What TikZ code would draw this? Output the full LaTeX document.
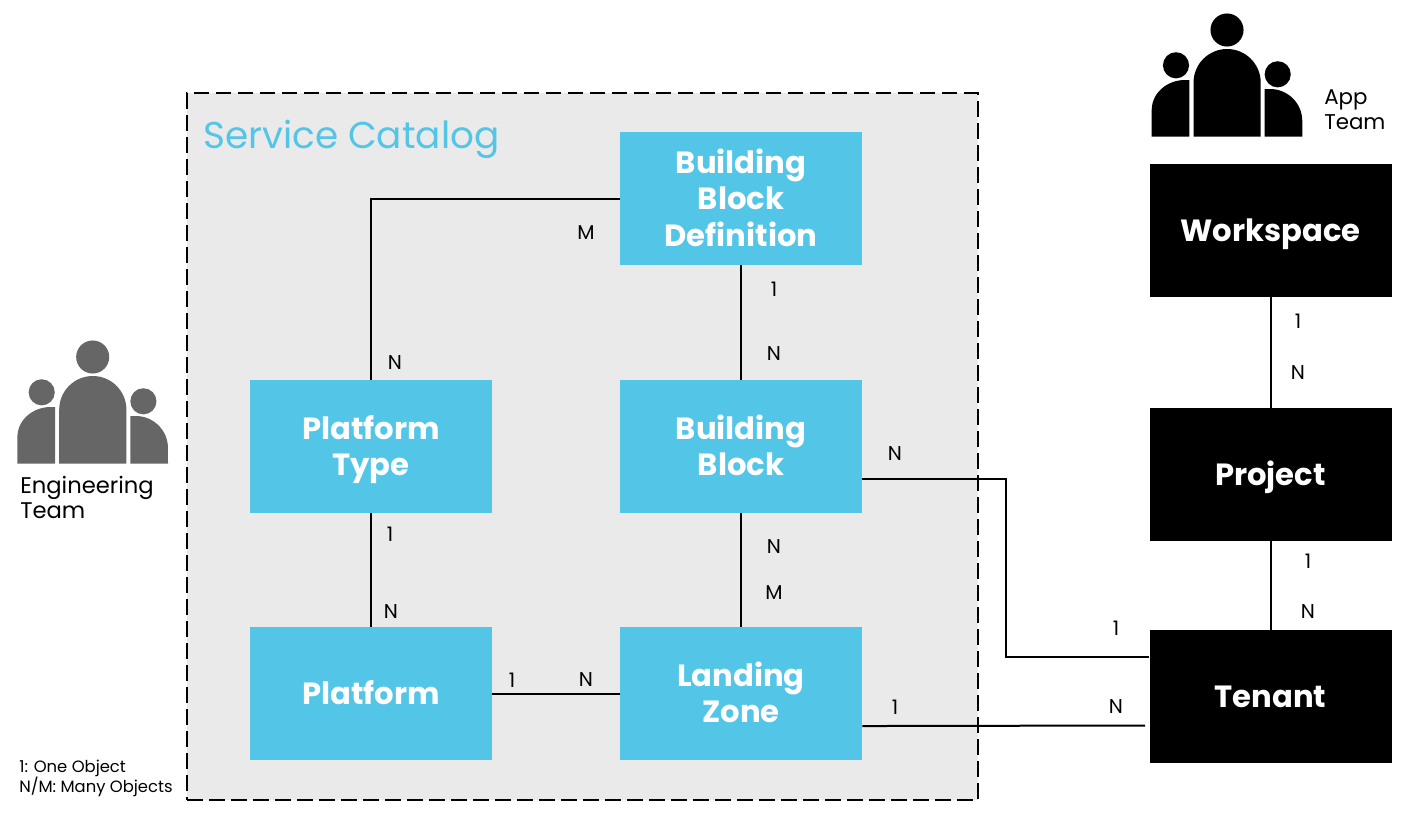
\documentclass[tikz,border=0pt]{standalone}
\usepackage{fontspec}
\setmainfont{Poppins}
\definecolor{catblue}{RGB}{83,197,230}
\definecolor{catgrey}{RGB}{234,234,234}
\definecolor{engrey}{RGB}{102,102,102}
\newcommand{\cardtop}{\rule{0pt}{22.6pt}}
\newcommand{\cardbot}{\rule[-6pt]{0pt}{6pt}}
\tikzset{
	card/.style={minimum width=181.5pt,minimum height=99.75pt,inner sep=0pt,align=center,text=white,font=\bfseries\fontsize{23}{27.4}\selectfont},
	bluecard/.style={card,fill=catblue},
	blackcard/.style={card,fill=black},
	link/.style={draw,line width=1.5pt},
	mult/.style={inner sep=0pt,font=\fontsize{15}{18}\selectfont},
	caption/.style={inner sep=0pt,align=left,anchor=west}
}
\newcommand{\teamicon}[3]{%
	\begin{scope}[shift={(#1,#2)},fill=#3]
	\fill (1227,30) circle (12.4pt);
	\fill (1176,65.3) circle (9.8pt);
	\fill (1277.7,74.3) circle (9.8pt);
	\fill (1193.5,136.7) -- (1193.5,82.6) arc[start angle=180,end angle=0,radius=25.2pt] -- (1260.7,136.7) -- cycle;
	\fill (1151.7,136.7) -- (1151.7,110) arc[start angle=180,end angle=90,x radius=25pt,y radius=22.5pt] -- (1189.3,80) -- (1189.3,136.7) -- cycle;
	\fill (1264.7,136.7) -- (1264.7,89) -- (1270,89) arc[start angle=90,end angle=0,x radius=24.2pt,y radius=24pt] -- (1302.3,136.7) -- cycle;
	\end{scope}}
\begin{document}
\begin{tikzpicture}[x=.75pt,y=-.75pt]
	\useasboundingbox (0,0) rectangle (1419,832);
	
	\node[draw,fill=catgrey,line width=1.7pt,dash pattern=on 11.5pt off 5pt,minimum width=593pt,minimum height=530pt,inner sep=0pt] (catalog) at (582.5,446.5) {};
	\node[inner sep=0pt,anchor=west,text=catblue,font=\fontsize{28}{34}\selectfont] (catalogtitle) at (203,139.5) {Service Catalog};
	
	\node[bluecard] (bbdef) at (741,198.5) {\cardtop Building\\Block\\Definition\cardbot};
	\node[bluecard] (ptype) at (371,446.5) {\cardtop Platform\\Type\cardbot};
	\node[bluecard] (bblock) at (741,446.5) {\cardtop Building\\Block\cardbot};
	\node[bluecard] (platform) at (371,693.5) {\cardtop\cardbot Platform};
	\node[bluecard] (lzone) at (741,693.5) {\cardtop Landing\\Zone\cardbot};
	
	\node[blackcard] (workspace) at (1270.5,230.5) {\cardtop\cardbot Workspace};
	\node[blackcard] (project) at (1270.5,474.5) {\cardtop\cardbot Project};
	\node[blackcard] (tenant) at (1270.5,696.5) {\cardtop\cardbot Tenant};
	
	\coordinate (tenantgap) at (1145,725.5);
	
	\draw[link] (bbdef.west) -| (ptype.north);
	\draw[link] (bbdef) -- (bblock);
	\draw[link] (ptype) -- (platform);
	\draw[link] (bblock) -- (lzone);
	\draw[link] (platform) -- (lzone);
	\draw[link] (workspace) -- (project);
	\draw[link] (project) -- (tenant);
	\draw[link] ([yshift=-24pt]bblock.east) -| (1005.5,656.5) -- ([yshift=30pt]tenant.west);
	\draw[link] ([yshift=-24.4pt]lzone.east) -- (tenantgap);
	
	\node[mult] (m1) at (586,233) {M};
	\node[mult] (m2) at (774,289) {1};
	\node[mult] (m3) at (774,354) {N};
	\node[mult] (m4) at (395,363) {N};
	\node[mult] (m5) at (390,534) {1};
	\node[mult] (m6) at (391,612) {N};
	\node[mult] (m7) at (774,547) {N};
	\node[mult] (m8) at (774,593) {M};
	\node[mult] (m9) at (512,680) {1};
	\node[mult] (m10) at (586,680) {N};
	\node[mult] (m11) at (895,454) {N};
	\node[mult] (m12) at (1116,628) {1};
	\node[mult] (m13) at (895,707) {1};
	\node[mult] (m14) at (1116,707) {N};
	\node[mult] (m15) at (1298,321) {1};
	\node[mult] (m16) at (1298,373) {N};
	\node[mult] (m17) at (1308,561) {1};
	\node[mult] (m18) at (1308,612) {N};
	
	\teamicon{0}{0}{black}
	\teamicon{-1134.3}{327}{engrey}
	
	\node[caption,font=\fontsize{16}{19}\selectfont] (appteam) at (1324,109.5) {App\\Team};
	\node[caption,font=\fontsize{17}{19}\selectfont] (engteam) at (20,497.5) {Engineering\\Team};
	\node[inner sep=0pt,align=left,anchor=west,font=\fontsize{12.3}{15}\selectfont] (legend) at (19,778) {1: One Object\\N/M: Many Objects};
\end{tikzpicture}
\end{document}
